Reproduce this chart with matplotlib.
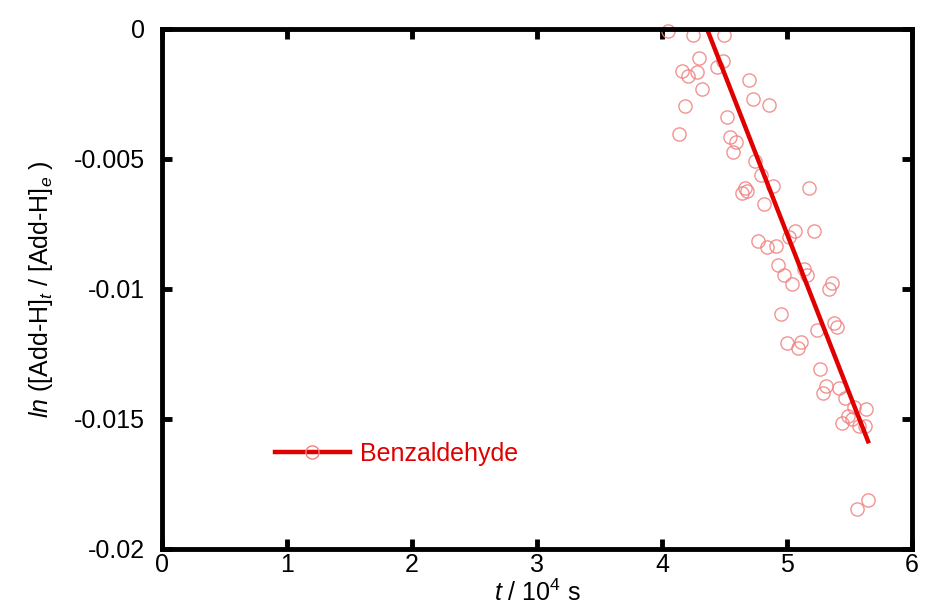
import matplotlib
matplotlib.use("Agg")
import matplotlib.pyplot as plt

plt.rcParams['font.family'] = ['Liberation Sans', 'DejaVu Sans']
plt.rcParams['mathtext.fontset'] = 'custom'
plt.rcParams['mathtext.rm'] = 'Liberation Sans'
plt.rcParams['mathtext.it'] = 'Liberation Sans:italic'
plt.rcParams['axes.unicode_minus'] = False

# datos (t en 10^4 s)
t_vals = [4.050, 4.250, 4.496, 4.298, 4.490, 4.158, 4.210, 4.278, 4.442, 4.318,
          4.698, 4.726, 4.858, 4.184, 4.518, 4.138, 4.544, 4.592, 4.570, 4.744,
          4.790, 4.890, 4.664, 4.638, 4.682, 5.176, 4.816, 5.064, 5.218, 5.016,
          4.770, 4.842, 4.912, 4.926, 5.136, 5.162, 4.976, 5.360, 5.336, 5.042,
          4.952, 5.242, 5.378, 5.402, 4.998, 5.112, 5.090, 5.264, 5.312, 5.290,
          5.418, 5.464, 5.538, 5.632, 5.490, 5.438, 5.518, 5.578, 5.624, 5.650,
          5.562]
ln_vals = [-0.00007, -0.00023, -0.00023, -0.00113, -0.00122, -0.00160, -0.00181,
           -0.00164, -0.00147, -0.00231, -0.00196, -0.00269, -0.00292, -0.00295,
           -0.00337, -0.00404, -0.00414, -0.00433, -0.00472, -0.00507, -0.00562,
           -0.00604, -0.00613, -0.00632, -0.00622, -0.00613, -0.00674, -0.00776,
           -0.00778, -0.00801, -0.00815, -0.00837, -0.00835, -0.00908, -0.00924,
           -0.00946, -0.00946, -0.00978, -0.01001, -0.00982, -0.01097, -0.01158,
           -0.01130, -0.01145, -0.01207, -0.01205, -0.01226, -0.01308, -0.01373,
           -0.01399, -0.01382, -0.01420, -0.01453, -0.01462, -0.01487, -0.01517,
           -0.01500, -0.01526, -0.01526, -0.01812, -0.01847]

# ajuste lineal
pendiente = -0.01231
intercepto = 0.05367
t_ajuste = [4.36, 5.648]
ln_ajuste = [pendiente * t + intercepto for t in t_ajuste]

x_ticks = [0, 1, 2, 3, 4, 5, 6]
y_ticks = [0, -0.005, -0.01, -0.015, -0.02]
y_labels = ['0', '-0.005', '-0.01', '-0.015', '-0.02']

fig = plt.figure(figsize=(9.28, 6.14), dpi=100)
ax = fig.add_axes([0.1746, 0.1059, 0.8082, 0.8469])

ax.plot(t_vals, ln_vals, 'o', markersize=9.5, markerfacecolor='none',
        markeredgecolor='#f08080', markeredgewidth=1.0, alpha=0.85, clip_on=False)
ax.plot(t_ajuste, ln_ajuste, '-', color='#e00000', linewidth=3.2)

# entrada de leyenda con linea y circulo
ax.plot([], [], '-', color='#e00000', linewidth=3.2, marker='o', markersize=9.5,
        markerfacecolor='none', markeredgecolor='#f08080', markeredgewidth=1.0,
        label='Benzaldehyde')
h, l = ax.get_legend_handles_labels()
leg = ax.legend(h[-1:], l[-1:], loc='center left', bbox_to_anchor=(0.12, 0.183),
                frameon=False, fontsize=18, handlelength=3.0, handletextpad=0.4)
for txt in leg.get_texts():
    txt.set_color('#e00000')

ax.set_xlim(0, 6)
ax.set_ylim(-0.02, 0)
ax.set_xticks(x_ticks)
ax.set_yticks(y_ticks)
ax.set_yticklabels(y_labels)

for s in ax.spines.values():
    s.set_linewidth(3.5)
ax.tick_params(direction='in', length=7, width=3.5, labelsize=18,
               top=True, right=True)
ax.tick_params(axis='x', pad=3)
ax.tick_params(axis='y', pad=12)

ax.set_xlabel(r'$t$ / 10$^4$ s', fontsize=18, labelpad=2)
ax.set_ylabel(r'$ln$ ([Add-H]$_t$ / [Add-H]$_e$ )', fontsize=18, labelpad=14)

fig.savefig('out.png', dpi=100)
